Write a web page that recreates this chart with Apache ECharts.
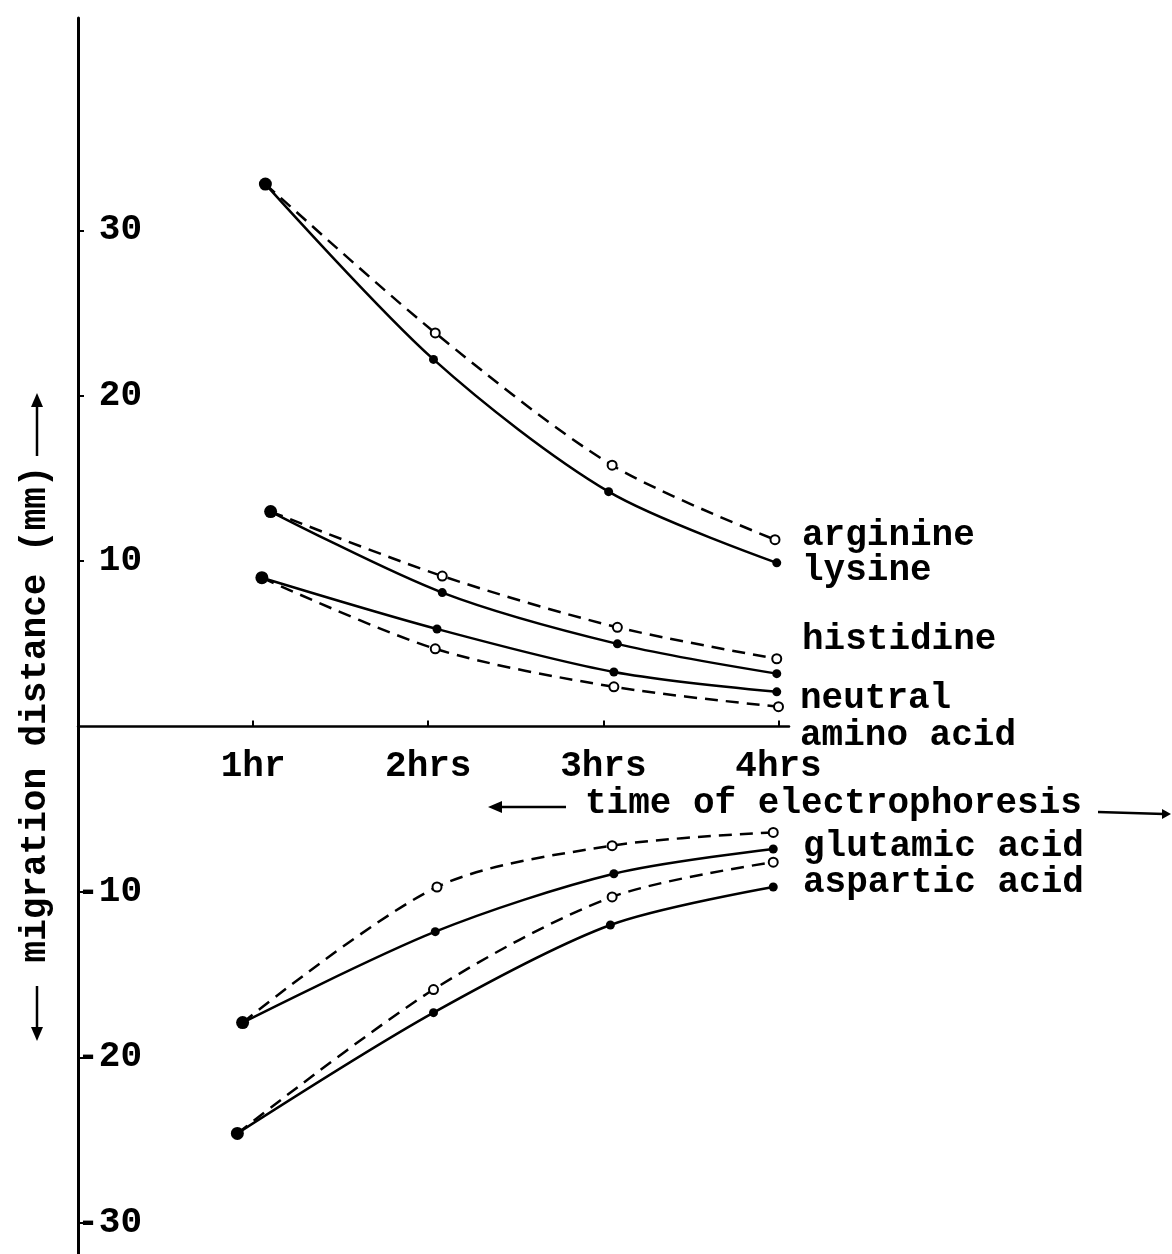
<!DOCTYPE html>
<html>
<head>
<meta charset="utf-8">
<script src="https://cdn.jsdelivr.net/npm/echarts@6/dist/echarts.min.js"></script>
<style>
  html, body { margin: 0; padding: 0; background: #fff; }
  #chart { width: 1172px; height: 1254px; }
</style>
</head>
<body>
<div id="chart"></div>
<script>
// axis ticks
var hourTicks = [1, 2, 3, 4]
var hourLabels = ['1hr', '2hrs', '3hrs', '4hrs']
var distTicks = [-30, -20, -10, 10, 20, 30]

// x = hours, y = migration distance (mm)
// dashed lines with open circles / solid lines with filled dots
var arginineX = [1.07, 2.04, 3.05, 3.98]
var arginineY = [32.8, 23.8, 15.8, 11.3]
var lysineX = [1.07, 2.03, 3.03, 3.99]
var lysineY = [32.8, 22.2, 14.2, 9.9]
var histidineOpenX = [1.10, 2.08, 3.08, 3.99]
var histidineOpenY = [13.0, 9.1, 6.0, 4.1]
var histidineX = [1.10, 2.08, 3.08, 3.99]
var histidineY = [13.0, 8.1, 5.0, 3.2]
var neutralOpenX = [1.05, 2.04, 3.06, 4.0]
var neutralOpenY = [9.0, 4.7, 2.4, 1.2]
var neutralX = [1.05, 2.05, 3.06, 3.99]
var neutralY = [9.0, 5.9, 3.3, 2.1]
var glutamicOpenX = [0.94, 2.05, 3.05, 3.97]
var glutamicOpenY = [-17.9, -9.7, -7.2, -6.4]
var glutamicX = [0.94, 2.04, 3.06, 3.97]
var glutamicY = [-17.9, -12.4, -8.9, -7.4]
var asparticOpenX = [0.91, 2.03, 3.05, 3.97]
var asparticOpenY = [-24.6, -15.9, -10.3, -8.2]
var asparticX = [0.91, 2.03, 3.04, 3.97]
var asparticY = [-24.6, -17.3, -12.0, -9.7]

var FONT = '"Liberation Mono", "DejaVu Sans Mono", monospace'
var FS = 36

// y range and grid (px) – the time axis is lifted up to the zero line
var Y_MIN = -31.89
var Y_MAX = 42.84
var GRID_TOP = 18
var H = 1254
var zeroPx = GRID_TOP + (Y_MAX - 0) / (Y_MAX - Y_MIN) * (H - GRID_TOP)

const pts = (xs, ys) => xs.map((x, i) => [x, ys[i]])

const solid = (name, xs, ys) => ({
  name: name,
  type: 'line',
  data: pts(xs, ys),
  smooth: 0.3,
  showAllSymbol: true,
  symbol: 'circle',
  symbolSize: (v, p) => p.dataIndex === 0 ? 13 : 9,
  itemStyle: { color: '#000' },
  lineStyle: { color: '#000', width: 2.5 },
  z: 4
})

const dashed = (name, xs, ys) => ({
  name: name,
  type: 'line',
  data: pts(xs, ys),
  smooth: 0.3,
  showAllSymbol: true,
  symbol: 'circle',
  symbolSize: (v, p) => p.dataIndex === 0 ? 0 : 9,
  itemStyle: { color: '#fff', borderColor: '#000', borderWidth: 2 },
  lineStyle: { color: '#000', width: 2.5, type: [13, 8] },
  z: 3
})

const txt = (text, x, y, rot, align) => ({
  type: 'text',
  x: x,
  y: y,
  rotation: rot || 0,
  style: {
    text: text,
    fontFamily: FONT,
    fontWeight: 'bold',
    fontSize: FS,
    fill: '#000',
    align: align || 'left',
    verticalAlign: 'middle'
  }
})

const seg = (x1, y1, x2, y2) => ({
  type: 'line',
  shape: { x1: x1, y1: y1, x2: x2, y2: y2 },
  style: { stroke: '#000', lineWidth: 2.5 }
})

const head = points => ({
  type: 'polygon',
  shape: { points: points },
  style: { fill: '#000' }
})

const hourName = v => {
  var i = Math.round(Number(v)) - 1
  return hourLabels[i] !== undefined ? hourLabels[i] : ''
}

var chart = echarts.init(document.getElementById('chart'))

chart.setOption({
  animation: false,
  backgroundColor: '#fff',
  grid: { left: 78, right: 383, top: GRID_TOP, bottom: 0, containLabel: false, outerBoundsMode: 'none' },
  xAxis: {
    type: 'value',
    min: 0,
    max: 4.06,
    position: 'bottom',
    offset: -(H - zeroPx),
    axisLine: { onZero: false, lineStyle: { color: '#000', width: 2.5 } },
    axisTick: { customValues: hourTicks, inside: true, length: 6, lineStyle: { color: '#000', width: 2 } },
    axisLabel: {
      show: true,
      customValues: hourTicks,
      formatter: hourName,
      margin: 22,
      color: '#000',
      fontFamily: FONT,
      fontWeight: 'bold',
      fontSize: FS
    },
    splitLine: { show: false }
  },
  yAxis: {
    type: 'value',
    min: Y_MIN,
    max: Y_MAX,
    axisLine: { show: true, onZero: false, lineStyle: { color: '#000', width: 3 } },
    axisTick: { show: true, customValues: distTicks, inside: true, length: 6, lineStyle: { color: '#000', width: 2 } },
    axisLabel: {
      customValues: distTicks,
      inside: true,
      align: 'right',
      margin: 64,
      color: '#000',
      fontFamily: FONT,
      fontWeight: 'bold',
      fontSize: FS
    },
    splitLine: { show: false }
  },
  series: [
    dashed('arginine', arginineX, arginineY),
    solid('lysine', lysineX, lysineY),
    dashed('histidine (open)', histidineOpenX, histidineOpenY),
    solid('histidine', histidineX, histidineY),
    dashed('neutral amino acid (open)', neutralOpenX, neutralOpenY),
    solid('neutral amino acid', neutralX, neutralY),
    dashed('glutamic acid (open)', glutamicOpenX, glutamicOpenY),
    solid('glutamic acid', glutamicX, glutamicY),
    dashed('aspartic acid (open)', asparticOpenX, asparticOpenY),
    solid('aspartic acid', asparticX, asparticY)
  ],
  graphic: [
    txt('arginine', 802, 536),
    txt('lysine', 802, 571),
    txt('histidine', 802, 640),
    txt('neutral', 800, 699),
    txt('amino acid', 800, 736),
    txt('glutamic acid', 803, 847),
    txt('aspartic acid', 803, 883),
    txt('time of electrophoresis', 585, 804),
    txt('migration distance (mm)', 36, 714, Math.PI / 2, 'center'),
    // arrows for the time label
    seg(500, 807, 566, 807),
    head([[488, 807], [502, 801], [502, 813]]),
    seg(1098, 812, 1164, 814),
    head([[1171, 814], [1162, 809], [1162, 819]]),
    // arrows for the distance label
    seg(37, 405, 37, 456),
    head([[37, 393], [31, 407], [43, 407]]),
    seg(37, 986, 37, 1028),
    head([[37, 1041], [31, 1027], [43, 1027]])
  ]
})
</script>
</body>
</html>
